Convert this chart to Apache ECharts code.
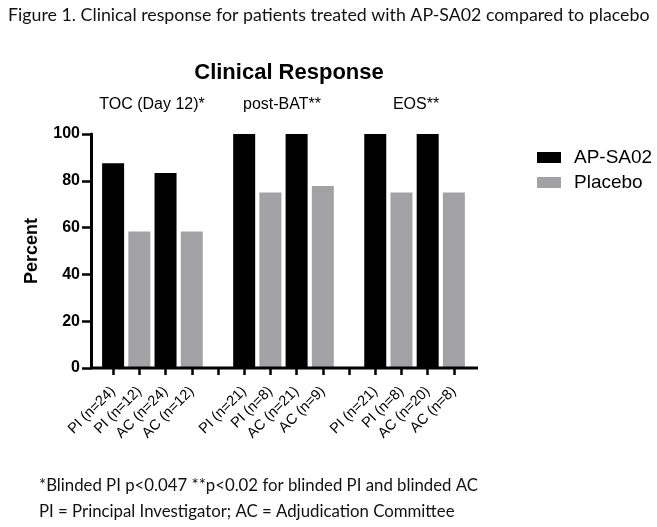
<!DOCTYPE html>
<html>
<head>
<meta charset="utf-8">
<script src="https://cdn.jsdelivr.net/npm/echarts@6/dist/echarts.min.js"></script>
<style>
  html, body { margin: 0; padding: 0; background: #ffffff; }
  #main { width: 657px; height: 527px; }
</style>
</head>
<body>
<div id="main"></div>
<script>
    // categories (empty strings are the gaps between time points)
    var categories = ['PI (n=24)', 'PI (n=12)', 'AC (n=24)', 'AC (n=12)', '',
                      'PI (n=21)', 'PI (n=8)', 'AC (n=21)', 'AC (n=9)', '',
                      'PI (n=21)', 'PI (n=8)', 'AC (n=20)', 'AC (n=8)'];
    var apValues      = [87.5, '-', 83.3, '-', '-', 100, '-', 100, '-', '-', 100, '-', 100, '-'];
    var placeboValues = ['-', 58.3, '-', 58.3, '-', '-', 75, '-', 77.8, '-', '-', 75, '-', 75];
    var groupLabels = ['TOC (Day 12)*', 'post-BAT**', 'EOS**'];
    var yTicks = [0, 20, 40, 60, 80, 100];

    var chart = echarts.init(document.getElementById('main'));
    var arial = 'Liberation Sans, Arial, sans-serif';
    var calibri = 'Lato, Open Sans, sans-serif';

    var option = {
        backgroundColor: '#ffffff',
        animation: false,
        title: [
            {
                text: 'Figure 1. Clinical response for patients treated with AP-SA02 compared to placebo',
                left: 3, top: 1,
                textStyle: { fontFamily: calibri, fontSize: 17.8, fontWeight: 'normal', color: '#111' }
            },
            {
                text: 'Clinical Response',
                left: 284, top: 57, textAlign: 'center',
                textStyle: { fontFamily: arial, fontSize: 22, fontWeight: 'bold', color: '#000' }
            }
        ],
        legend: {
            orient: 'vertical',
            left: 532, top: 143,
            itemWidth: 24, itemHeight: 11, itemGap: 6,
            icon: 'rect',
            textStyle: { fontFamily: arial, fontSize: 19, color: '#000', lineHeight: 18, padding: [0, 0, 0, 8] },
            data: ['AP-SA02', 'Placebo']
        },
        grid: { left: 100, top: 134, width: 367, height: 234 },
        xAxis: {
            type: 'category',
            data: categories,
            axisLine: { show: false },
            axisTick: { show: true, alignWithLabel: true, interval: 0, length: 7, lineStyle: { color: '#000', width: 2.5 } },
            axisLabel: { interval: 0, rotate: 45, margin: 21, fontFamily: arial, fontSize: 14.5, color: '#000' }
        },
        yAxis: {
            type: 'value',
            min: 0, max: 100, interval: 20,
            offset: 9,
            name: 'Percent',
            nameLocation: 'middle',
            nameGap: 50,
            nameTextStyle: { fontFamily: arial, fontSize: 18, fontWeight: 'bold', color: '#000' },
            axisLine: { show: true, lineStyle: { color: '#000', width: 3 } },
            axisTick: { show: true, length: 9, lineStyle: { color: '#000', width: 2.5 } },
            axisLabel: {
                margin: 11, fontFamily: arial, fontSize: 16, fontWeight: 'bold', color: '#000',
                formatter: function (v) { return yTicks.indexOf(v) >= 0 ? String(v) : ''; }
            },
            splitLine: { show: false }
        },
        series: [
            {
                name: 'AP-SA02',
                type: 'bar',
                barWidth: 22,
                barGap: '-100%',
                itemStyle: { color: '#000000' },
                data: apValues
            },
            {
                name: 'Placebo',
                type: 'bar',
                barWidth: 22,
                barGap: '-100%',
                itemStyle: { color: '#a2a2a5' },
                data: placeboValues
            }
        ],
        graphic: [
            // x axis baseline, drawn wider than the category bands like the original
            { type: 'line', shape: { x1: 90, y1: 368, x2: 478, y2: 368 }, style: { stroke: '#000', lineWidth: 3 }, z: 10 },
            { type: 'text', style: { text: groupLabels[0], x: 152, y: 105, align: 'center', verticalAlign: 'middle', font: '16px ' + arial, fill: '#000' } },
            { type: 'text', style: { text: groupLabels[1], x: 282, y: 105, align: 'center', verticalAlign: 'middle', font: '16px ' + arial, fill: '#000' } },
            { type: 'text', style: { text: groupLabels[2], x: 416, y: 105, align: 'center', verticalAlign: 'middle', font: '16px ' + arial, fill: '#000' } },
            { type: 'text', style: { text: '*Blinded PI p<0.047 **p<0.02 for blinded PI and blinded AC', x: 39, y: 486, verticalAlign: 'middle', font: '16.8px ' + calibri, fill: '#111' } },
            { type: 'text', style: { text: 'PI = Principal Investigator; AC = Adjudication Committee', x: 39, y: 512, verticalAlign: 'middle', font: '16.8px ' + calibri, fill: '#111' } }
        ]
    };
    chart.setOption(option);
</script>
</body>
</html>
